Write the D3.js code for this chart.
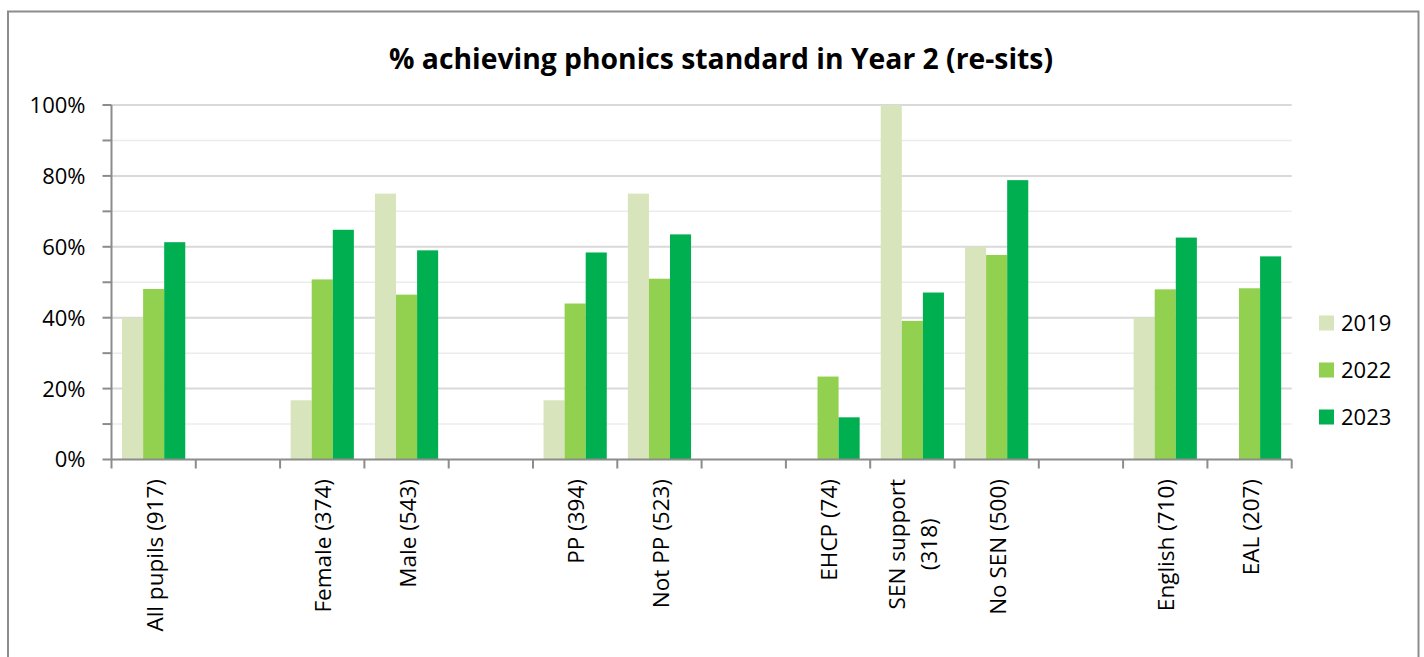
<!DOCTYPE html>
<html>
<head>
<meta charset="utf-8">
<script src="https://cdn.jsdelivr.net/npm/d3@7/dist/d3.min.js"></script>
<style>
  html, body { margin: 0; padding: 0; background: #fff; }
  svg { display: block; font-family: "Open Sans", "Noto Sans", sans-serif; }
</style>
</head>
<body>
<svg id="chart" width="1424" height="657"></svg>
<script>
// ---- data ----
const categories = ["All pupils (917)", "", "Female (374)", "Male (543)", "", "PP (394)", "Not PP (523)", "", "EHCP (74)", "SEN support|(318)", "No SEN (500)", "", "English (710)", "EAL (207)"];
const seriesNames = ["2019", "2022", "2023"];
const values2019 = [40, null, 16.7, 75, null, 16.7, 75, null, null, 100, 60, null, 40, null];
const values2022 = [48.1, null, 50.8, 46.5, null, 44.0, 51.0, null, 23.4, 39.1, 57.7, null, 48.0, 48.3];
const values2023 = [61.3, null, 64.8, 59.0, null, 58.4, 63.5, null, 11.9, 47.1, 78.8, null, 62.6, 57.3];
const yTicks = [0, 20, 40, 60, 80, 100];
const yMinorTicks = [10, 30, 50, 70, 90];
const colors = ["#d8e4bc", "#92d050", "#00b050"];
const title = "% achieving phonics standard in Year 2 (re-sits)";

const svg = d3.select("#chart");

// border
svg.append("path")
  .attr("d", "M8,657 L8,11.5 L1418.5,11.5 L1418.5,657")
  .attr("fill", "none").attr("stroke", "#8c8c8c").attr("stroke-width", 2);

const x0 = 111.5, x1 = 1291.7, yBot = 459.5, yTop = 105;
const x = d3.scaleBand().domain(d3.range(categories.length)).range([x0, x1]).paddingInner(0).paddingOuter(0);
const y = d3.scaleLinear().domain([0, 100]).range([yBot, yTop]);
const bw = x.bandwidth() / 4;
const xs = d3.scaleBand().domain(seriesNames).range([bw / 2, bw / 2 + 3 * bw]);

// gridlines
svg.append("g").selectAll("line.minor").data(yMinorTicks).join("line")
  .attr("x1", x0).attr("x2", x1).attr("y1", d => y(d)).attr("y2", d => y(d))
  .attr("stroke", "#ececec").attr("stroke-width", 1.5);
svg.append("g").selectAll("line.major").data(yTicks.filter(d => d > 0)).join("line")
  .attr("x1", x0).attr("x2", x1).attr("y1", d => y(d)).attr("y2", d => y(d))
  .attr("stroke", "#d9d9d9").attr("stroke-width", 2);

// bars
const allSeries = [values2019, values2022, values2023];
allSeries.forEach((vals, si) => {
  svg.append("g").selectAll("rect").data(vals.map((v, i) => ({ v, i })).filter(d => d.v != null)).join("rect")
    .attr("x", d => x(d.i) + xs(seriesNames[si]))
    .attr("width", xs.bandwidth())
    .attr("y", d => y(d.v))
    .attr("height", d => yBot - y(d.v))
    .attr("fill", colors[si]);
});

// y axis
const yAxisG = svg.append("g").attr("transform", `translate(${x0},0)`);
yAxisG.append("line").attr("x1", 0).attr("x2", 0).attr("y1", yTop).attr("y2", yBot)
  .attr("stroke", "#8c8c8c").attr("stroke-width", 2);
yAxisG.selectAll("line.t").data(yTicks.concat(yMinorTicks)).join("line")
  .attr("x1", -9).attr("x2", 0).attr("y1", d => y(d)).attr("y2", d => y(d))
  .attr("stroke", "#8c8c8c").attr("stroke-width", 2);
yAxisG.selectAll("text").data(yTicks).join("text")
  .attr("x", -26).attr("y", d => y(d)).attr("dy", "0.36em")
  .attr("text-anchor", "end").attr("font-size", 22).attr("fill", "#000")
  .text(d => d + "%");

// x axis
const xAxisG = svg.append("g");
xAxisG.append("line").attr("x1", x0).attr("x2", x1).attr("y1", yBot).attr("y2", yBot)
  .attr("stroke", "#8c8c8c").attr("stroke-width", 2);
const tickPos = d3.range(categories.length + 1).map(i => i < categories.length ? x(i) : x1);
xAxisG.selectAll("line.t").data(tickPos).join("line")
  .attr("x1", d => d).attr("x2", d => d).attr("y1", yBot).attr("y2", yBot + 9)
  .attr("stroke", "#8c8c8c").attr("stroke-width", 2);

categories.forEach((c, i) => {
  if (!c) return;
  const lines = c.split("|");
  const g = xAxisG.append("g")
    .attr("transform", `translate(${x(i) + x.bandwidth() / 2 + 1},479) rotate(-90)`);
  const n = lines.length;
  const lh = 32;
  const texts = g.selectAll("text").data(lines).join("text")
    .attr("font-size", 22.5).attr("fill", "#000")
    .attr("dy", "0.36em")
    .attr("y", (d, k) => (k - (n - 1) / 2) * lh)
    .text(d => d);
  if (n === 1) {
    texts.attr("text-anchor", "end").attr("x", 0);
  } else {
    let maxW = 0;
    texts.each(function () { maxW = Math.max(maxW, this.getComputedTextLength()); });
    texts.attr("text-anchor", "middle").attr("x", -maxW / 2);
  }
});

// legend
const lg = svg.append("g");
seriesNames.forEach((s, i) => {
  const cy = 323 + i * 47;
  lg.append("rect").attr("x", 1319).attr("y", cy - 7.5).attr("width", 15).attr("height", 15).attr("fill", colors[i]);
  lg.append("text").attr("x", 1341).attr("y", cy).attr("dy", "0.36em")
    .attr("font-size", 22).attr("fill", "#000").text(s);
});

// title
svg.append("text").attr("x", 721).attr("y", 69).attr("text-anchor", "middle")
  .attr("font-size", 29).attr("font-weight", "bold").attr("fill", "#000")
  .attr("textLength", 664).attr("lengthAdjust", "spacingAndGlyphs")
  .text(title);
</script>
</body>
</html>
